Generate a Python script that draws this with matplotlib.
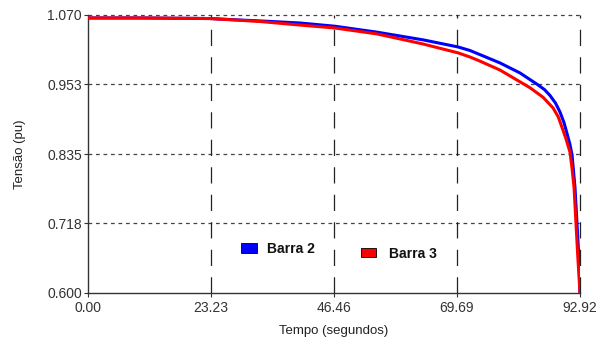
import numpy as np
import matplotlib.pyplot as plt
from matplotlib.patches import Rectangle

# data
t_barra2 = [0.0, 10.0, 23.04, 28.71, 32.48, 40.04, 46.65, 54.58, 63.27, 69.88,
            72.14, 74.03, 77.80, 81.59, 84.80, 86.2, 87.25, 88.3, 89.14, 89.9,
            90.46, 91.0, 91.41, 91.97, 92.35, 92.73, 92.92]
v_barra2 = [1.065, 1.065, 1.064, 1.0615, 1.060, 1.0565, 1.051, 1.041, 1.028, 1.016,
            1.010, 1.003, 0.989, 0.972, 0.953, 0.944, 0.934, 0.921, 0.906, 0.888,
            0.870, 0.852, 0.834, 0.779, 0.718, 0.656, 0.600]

t_barra3 = [0.0, 10.0, 23.04, 28.71, 32.48, 40.04, 46.65, 54.58, 63.27, 69.88,
            72.14, 74.03, 77.80, 81.59, 83.48, 85.93, 87.82, 88.8, 89.52, 90.3,
            91.03, 91.4, 91.79, 92.16, 92.54, 92.92]
v_barra3 = [1.065, 1.065, 1.064, 1.061, 1.059, 1.053, 1.048, 1.038, 1.021, 1.006,
            0.999, 0.992, 0.977, 0.957, 0.947, 0.931, 0.913, 0.898, 0.880, 0.860,
            0.838, 0.812, 0.779, 0.718, 0.656, 0.600]

x_ticks = [0.00, 23.23, 46.46, 69.69, 92.92]
y_ticks = [0.600, 0.718, 0.835, 0.953, 1.070]

plt.rcParams['font.family'] = ['Liberation Sans', 'DejaVu Sans']

fig = plt.figure(figsize=(6.04, 3.45), dpi=100)
ax = fig.add_axes([88/604, 1-293/345, 492/604, 278/345])

# grid
for y in y_ticks[1:]:
    ax.axhline(y, color="#444444", lw=0.9, ls=(0, (3, 3)), zorder=1, clip_on=False)
for x in x_ticks[1:]:
    ax.axvline(x, color="#222222", lw=0.9, ls=(0, (13, 9)), zorder=1, clip_on=False)

ax.plot(t_barra2, v_barra2, color="#0000ff", lw=2.2, zorder=3)
ax.plot(t_barra3, v_barra3, color="#ff0000", lw=2.2, zorder=4)

ax.set_xlim(0, 92.92)
ax.set_ylim(0.600, 1.070)
ax.set_xticks(x_ticks)
ax.set_xticklabels(["%.2f" % x for x in x_ticks])
ax.set_yticks(y_ticks)
ax.set_yticklabels(["%.3f" % y for y in y_ticks])

for s in ["top", "right"]:
    ax.spines[s].set_visible(False)
for s in ["left", "bottom"]:
    ax.spines[s].set_color("#333333")
    ax.spines[s].set_linewidth(1.0)

ax.tick_params(axis="both", length=3, width=0.8, color="#333333",
               labelsize=10, labelcolor="#333333", pad=1.5)
ax.tick_params(axis="x", pad=3)
ax.set_xlabel("Tempo (segundos)", fontsize=9.5, color="#222222", labelpad=7)
ax.set_ylabel("Tensão (pu)", fontsize=9.5, color="#222222", labelpad=15)

# legend drawn in figure pixels like the original
fig.patches.append(Rectangle((241/604, 1-253/345), 16/604, 10/345,
                             transform=fig.transFigure, facecolor="#0000ff",
                             edgecolor="#000000", lw=0.6))
fig.text(267/604, 1-249/345, "Barra 2", fontsize=10, fontweight="bold",
         va="center", color="#111111")
fig.patches.append(Rectangle((361/604, 1-257/345), 15/604, 9/345,
                             transform=fig.transFigure, facecolor="#ff0000",
                             edgecolor="#000000", lw=0.6))
fig.text(389/604, 1-254/345, "Barra 3", fontsize=10, fontweight="bold",
         va="center", color="#111111")

fig.savefig("out.png", dpi=100)
